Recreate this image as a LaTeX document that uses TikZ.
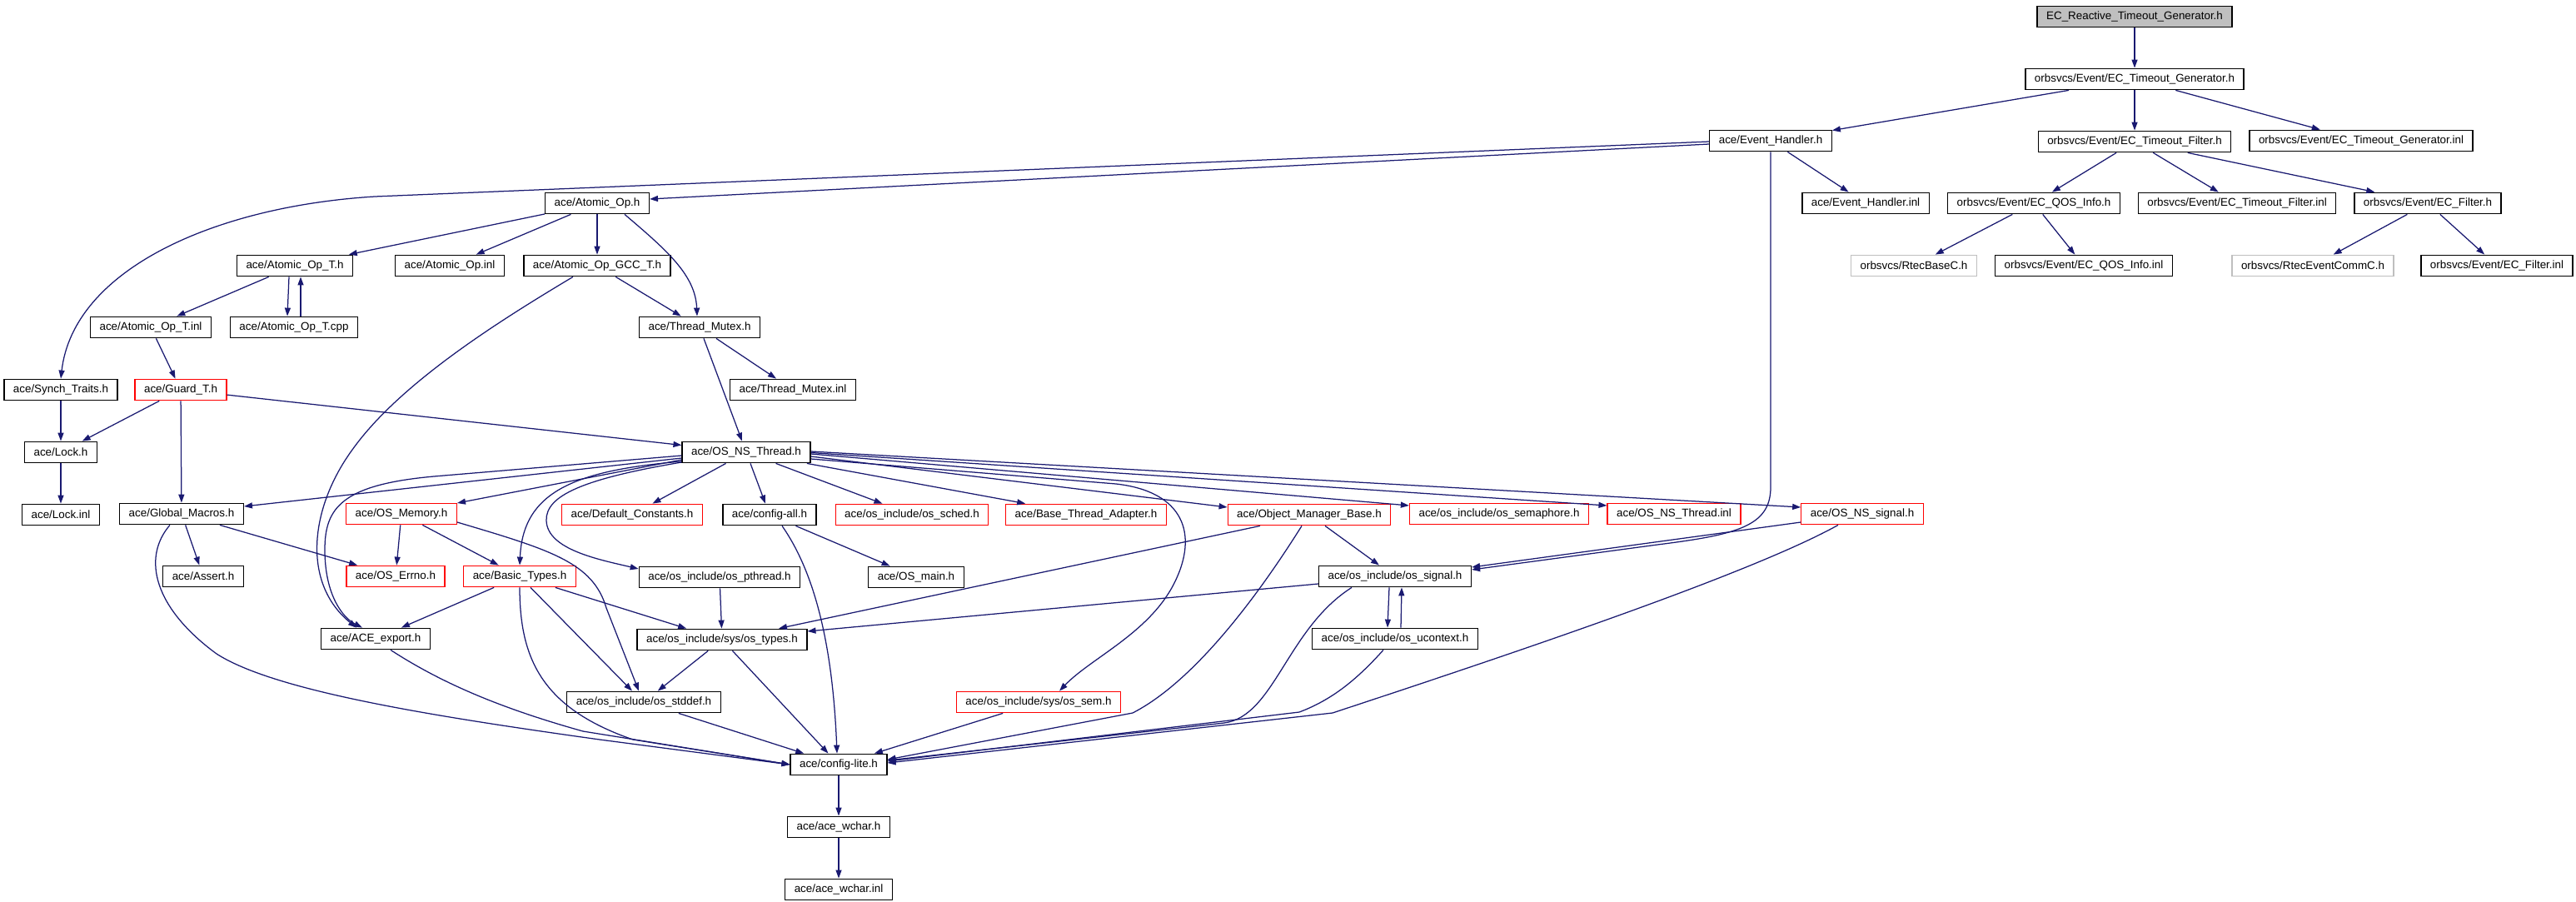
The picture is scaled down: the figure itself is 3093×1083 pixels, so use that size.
\documentclass[tikz,border=0pt]{standalone}
\usepackage{fontspec}
\setmainfont{Liberation Sans}
\usetikzlibrary{arrows.meta, positioning}
\definecolor{edgeblue}{HTML}{191970}
\definecolor{docgray}{HTML}{BFBFBF}
\tikzset{%
>={Triangle[width=7pt,length=10pt]},
  % Specifications for style of nodes:
            file/.style = {rectangle, draw=black, line width=1.3pt,
                            fill=white, minimum height=25.5pt,
                            inner xsep=11pt, inner ysep=0pt,
                            font=\fontsize{13.4}{16}\selectfont},
            redfile/.style = {draw=red},
            grayfile/.style = {draw=docgray},
            rootfile/.style = {fill=docgray},
            dep/.style = {->, draw=edgeblue, line width=1.25pt}
}
\begin{document}
\begin{tikzpicture}[x=1pt, y=-1pt, node distance=75pt, every node/.style={file}]
\useasboundingbox (0,0) rectangle (3093,1083);
                        % orbsvcs part
                        \node[rootfile] (root) at (2563,20) {EC\_Reactive\_Timeout\_Generator.h};
                        \node (ectg) [below of=root] {orbsvcs/Event/EC\_Timeout\_Generator.h};
                        \node (evh) at (2126,169) {ace/Event\_Handler.h};
                        \node (ectf) [below of=ectg] {orbsvcs/Event/EC\_Timeout\_Filter.h};
                        \node (ectginl) at (2835,169) {orbsvcs/Event/EC\_Timeout\_Generator.inl};
                        \node (evhinl) at (2240,244) {ace/Event\_Handler.inl};
                        \node (qos) at (2442,244) {orbsvcs/Event/EC\_QOS\_Info.h};
                        \node (ectfinl) at (2686,244) {orbsvcs/Event/EC\_Timeout\_Filter.inl};
                        \node (filt) at (2915,244) {orbsvcs/Event/EC\_Filter.h};
                        \node[grayfile] (rtecbase) at (2298,319) {orbsvcs/RtecBaseC.h};
                        \node (qosinl) at (2502,319) {orbsvcs/Event/EC\_QOS\_Info.inl};
                        \node[grayfile] (rteccomm) at (2777,319) {orbsvcs/RtecEventCommC.h};
                        \node (filtinl) at (2998,319) {orbsvcs/Event/EC\_Filter.inl};
                        % ace part
                        \node (atop) at (717,244) {ace/Atomic\_Op.h};
                        \node (atopt) at (354,319) {ace/Atomic\_Op\_T.h};
                        \node (atopinl) at (540,319) {ace/Atomic\_Op.inl};
                        \node (gcc) [below of=atop] {ace/Atomic\_Op\_GCC\_T.h};
                        \node (atoptinl) at (181,393) {ace/Atomic\_Op\_T.inl};
                        \node (atoptcpp) at (353,393) {ace/Atomic\_Op\_T.cpp};
                        \node (tmutex) at (840,393) {ace/Thread\_Mutex.h};
                        \node (synch) at (73,468) {ace/Synch\_Traits.h};
                        \node[redfile] (guard) at (217,468) {ace/Guard\_T.h};
                        \node (tmutexinl) at (952,468) {ace/Thread\_Mutex.inl};
                        \node (lock) [below of=synch] {ace/Lock.h};
                        \node (osnsthr) at (896,543) {ace/OS\_NS\_Thread.h};
                        \node (lockinl) [below of=lock] {ace/Lock.inl};
                        \node (gmacros) at (218,617) {ace/Global\_Macros.h};
                        \node[redfile] (osmem) at (482,617) {ace/OS\_Memory.h};
                        \node[redfile] (defconst) at (759,618) {ace/Default\_Constants.h};
                        \node (cfgall) at (924,618) {ace/config-all.h};
                        \node[redfile] (ossched) at (1095,618) {ace/os\_include/os\_sched.h};
                        \node[redfile] (bta) at (1304,618) {ace/Base\_Thread\_Adapter.h};
                        \node[redfile] (omb) at (1572,618) {ace/Object\_Manager\_Base.h};
                        \node[redfile] (ossema) at (1800,617) {ace/os\_include/os\_semaphore.h};
                        \node[redfile] (osnsthrinl) at (2010,617) {ace/OS\_NS\_Thread.inl};
                        \node[redfile] (osnssig) at (2236,617) {ace/OS\_NS\_signal.h};
                        \node (assert) at (244,692) {ace/Assert.h};
                        \node[redfile] (oserrno) at (475,692) {ace/OS\_Errno.h};
                        \node[redfile] (btypes) at (624,692) {ace/Basic\_Types.h};
                        \node (pthread) at (864,693) {ace/os\_include/os\_pthread.h};
                        \node (osmain) at (1100,693) {ace/OS\_main.h};
                        \node (ossig) at (1675,692) {ace/os\_include/os\_signal.h};
                        \node (aceexp) at (451,767) {ace/ACE\_export.h};
                        \node (ostypes) at (867,768) {ace/os\_include/sys/os\_types.h};
                        \node (ucontext) [below of=ossig] {ace/os\_include/os\_ucontext.h};
                        \node (stddef) at (773,843) {ace/os\_include/os\_stddef.h};
                        \node[redfile] (ossem) at (1247,843) {ace/os\_include/sys/os\_sem.h};
                        \node (cfglite) at (1007,918) {ace/config-lite.h};
                        \node (wchar) [below of=cfglite] {ace/ace\_wchar.h};
                        \node (wcharinl) [below of=wchar] {ace/ace\_wchar.inl};
                        % top part
                        \draw[dep] (root) -- (ectg);
                        \draw[dep] (ectg) -- (evh);
                        \draw[dep] (ectg) -- (ectf);
                        \draw[dep] (ectg) -- (ectginl);
                        \draw[dep] (evh) -- (evhinl);
                        \draw[dep] ([yshift=-4pt]evh.west) -- ([yshift=5pt]atop.east);
                        \draw[dep] ([yshift=-1pt]evh.west) -- (450,236) .. controls (255,248) and (88,325) .. (synch.north);
                        \draw[dep] (evh.south) -- (2126,585) .. controls (2126,632) and (2085,642) .. (1990,654) -- ([yshift=8pt]ossig.east);
                        \draw[dep] (ectf) -- (qos);
                        \draw[dep] (ectf) -- (ectfinl);
                        \draw[dep] (ectf) -- (filt);
                        \draw[dep] (qos) -- (rtecbase);
                        \draw[dep] (qos) -- (qosinl);
                        \draw[dep] (filt) -- (rteccomm);
                        \draw[dep] (filt) -- (filtinl);
                        % atomic ops
                        \draw[dep] (atop) -- (atopt);
                        \draw[dep] (atop) -- (atopinl);
                        \draw[dep] (atop) -- (gcc);
                        \draw[dep] ([xshift=33pt]atop.south) .. controls (800,300) and (835,330) .. ([xshift=-3pt]tmutex.north);
                        \draw[dep] (atopt) -- (atoptinl);
                        \draw[dep] ([xshift=-7pt]atopt.south) -- ([xshift=-8pt]atoptcpp.north);
                        \draw[dep] ([xshift=8pt]atoptcpp.north) -- ([xshift=7pt]atopt.south);
                        \draw[dep] (gcc) -- (tmutex);
                        \draw[dep] ([xshift=-29pt]gcc.south) .. controls (600,385) and (480,460) .. (423,540) .. controls (372,610) and (362,700) .. ([xshift=-23pt]aceexp.north);
                        \draw[dep] (tmutex) -- (tmutexinl);
                        \draw[dep] (tmutex) -- (osnsthr);
                        \draw[dep] (atoptinl) -- (guard);
                        \draw[dep] (guard) -- (lock);
                        \draw[dep] (guard) -- (gmacros);
                        \draw[dep] (guard) -- (osnsthr);
                        \draw[dep] (synch) -- (lock);
                        \draw[dep] (lock) -- (lockinl);
                        % OS_NS_Thread
                        \draw[dep] ([yshift=-7pt]osnsthr.west) -- ([yshift=9pt]gmacros.east);
                        \draw[dep] ([yshift=-4pt]osnsthr.west) -- (521,572) .. controls (410,582) and (390,610) .. (390,660) .. controls (390,715) and (412,742) .. ([xshift=-16pt]aceexp.north);
                        \draw[dep] ([yshift=-9pt]osnsthr.west) -- ([yshift=13pt]osmem.east);
                        \draw[dep] ([yshift=-11pt]osnsthr.west) .. controls (690,565) and (628,590) .. (btypes.north);
                        \draw[dep] ([yshift=-12pt]osnsthr.west) .. controls (700,575) and (655,595) .. (656,625) .. controls (657,660) and (720,672) .. ([yshift=10pt]pthread.west);
                        \draw[dep] (osnsthr) -- (defconst);
                        \draw[dep] (osnsthr) -- (cfgall);
                        \draw[dep] (osnsthr) -- (ossched);
                        \draw[dep] (osnsthr) -- (bta);
                        \draw[dep] ([yshift=-5pt]osnsthr.east) -- ([yshift=9pt]omb.west);
                        \draw[dep] ([yshift=-2pt]osnsthr.east) -- ([yshift=10pt]ossema.west);
                        \draw[dep] ([yshift=-0.5pt]osnsthr.east) -- ([yshift=10pt]osnsthrinl.west);
                        \draw[dep] ([yshift=1pt]osnsthr.east) -- ([yshift=8pt]osnssig.west);
                        \draw[dep] ([yshift=-8pt]osnsthr.east) -- (1340,581) .. controls (1420,590) and (1440,640) .. (1410,700) .. controls (1380,760) and (1310,790) .. ([xshift=25pt]ossem.north);
                        % memory and basic types
                        \draw[dep] (osmem) -- (oserrno);
                        \draw[dep] (osmem) -- (btypes);
                        \draw[dep] ([yshift=-10pt]osmem.east) .. controls (660,660) and (712,675) .. (728,730) -- ([xshift=-6pt]stddef.north);
                        \draw[dep] (btypes) -- (aceexp);
                        \draw[dep] ([xshift=13pt]btypes.south) -- ([xshift=-14pt]stddef.north);
                        \draw[dep] (btypes) -- (ostypes);
                        \draw[dep] (btypes.south) .. controls (624,790) and (650,850) .. (760,888) -- (cfglite.west);
                        \draw[dep] (gmacros) -- (assert);
                        \draw[dep] (gmacros) -- (oserrno);
                        \draw[dep] ([xshift=-14pt]gmacros.south) .. controls (170,670) and (185,730) .. (260,785) .. controls (330,830) and (520,860) .. (720,888) -- (cfglite.west);
                        \draw[dep] ([xshift=18pt]aceexp.south) .. controls (530,820) and (600,850) .. (700,878) -- (cfglite.west);
                        % sys types and config
                        \draw[dep] (pthread) -- (ostypes);
                        \draw[dep] (ostypes) -- (stddef);
                        \draw[dep] (ostypes) -- (cfglite);
                        \draw[dep] (stddef) -- (cfglite);
                        \draw[dep] (cfgall) -- (osmain);
                        \draw[dep] ([xshift=15pt]cfgall.south) .. controls (980,690) and (1000,780) .. ([xshift=-2pt]cfglite.north);
                        \draw[dep] (ossem) -- (cfglite);
                        % object manager and signals
                        \draw[dep] ([xshift=-59pt]omb.south) -- ([xshift=68pt]ostypes.north);
                        \draw[dep] ([xshift=19pt]omb.south) -- ([xshift=-19pt]ossig.north);
                        \draw[dep] ([xshift=-9pt]omb.south) .. controls (1520,700) and (1440,815) .. (1360,856) -- ([yshift=6pt]cfglite.east);
                        \draw[dep] ([yshift=-9pt]ossig.west) -- ([yshift=10pt]ostypes.east);
                        \draw[dep] ([xshift=-7pt]ossig.south) -- ([xshift=-9pt]ucontext.north);
                        \draw[dep] ([xshift=7pt]ucontext.north) -- ([xshift=8pt]ossig.south);
                        \draw[dep] ([xshift=-52pt]ossig.south) .. controls (1545,755) and (1530,860) .. (1470,868) -- ([yshift=5pt]cfglite.east);
                        \draw[dep] ([xshift=-14pt]ucontext.south) .. controls (1630,815) and (1600,840) .. (1560,855) -- ([yshift=4pt]cfglite.east);
                        \draw[dep] ([xshift=-29pt]osnssig.south) .. controls (2100,690) and (1800,790) .. (1600,856) -- ([yshift=2pt]cfglite.east);
                        \draw[dep] ([yshift=-10pt]osnssig.west) -- ([yshift=11pt]ossig.east);
                        % bottom chain
                        \draw[dep] (cfglite) -- (wchar);
                        \draw[dep] (wchar) -- (wcharinl);
                    \end{tikzpicture}
\end{document}
